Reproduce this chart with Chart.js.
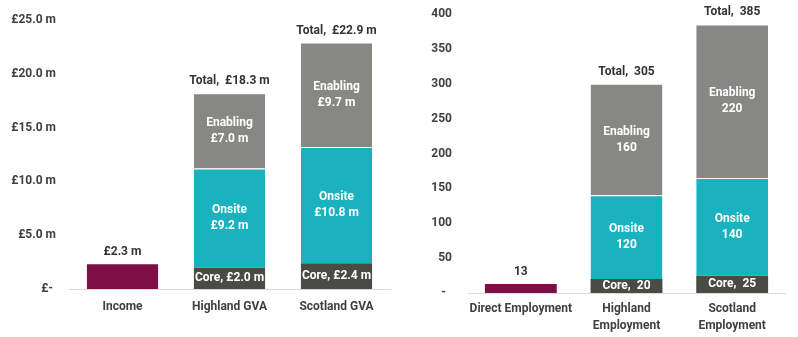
<!DOCTYPE html>
<html>
<head>
<meta charset="utf-8">
<script src="https://cdn.jsdelivr.net/npm/chart.js@4.4.1/dist/chart.umd.min.js"></script>
<style>
  html, body { margin: 0; padding: 0; background: #fff; }
  #wrap { position: relative; width: 798px; height: 337px; }
  .box { position: absolute; top: 0; height: 337px; }
  #gva-box { left: 0; width: 400px; }
  #jobs-box { left: 400px; width: 398px; }
</style>
</head>
<body>
<div id="wrap">
  <div class="box" id="gva-box"><canvas id="gvaChart"></canvas></div>
  <div class="box" id="jobs-box"><canvas id="jobsChart"></canvas></div>
</div>
<script>
// money impact (£ m)
const gvaCategories = ['Income', 'Highland GVA', 'Scotland GVA'];
const gvaIncome = [2.3, null, null];
const gvaCore = [null, 2.0, 2.4];
const gvaOnsite = [null, 9.2, 10.8];
const gvaEnabling = [null, 7.0, 9.7];
const gvaTotals = [null, 18.3, 22.9];
const gvaTicks = [0, 5, 10, 15, 20, 25];

// jobs impact (FTE)
const jobsCategories = [['Direct Employment'], ['Highland', 'Employment'], ['Scotland', 'Employment']];
const jobsDirect = [13, null, null];
const jobsCore = [null, 20, 25];
const jobsOnsite = [null, 120, 140];
const jobsEnabling = [null, 160, 220];
const jobsTotals = [null, 305, 385];
const jobsTicks = [0, 50, 100, 150, 200, 250, 300, 350, 400];

const MAROON = '#7e0f46';
const CORE = '#4b4b46';
const ONSITE = '#1bb2bf';
const ENABLING = '#878784';
const FONT = 'Roboto';

const barLabels = {
  id: 'barLabels',
  afterDatasetsDraw(chart, args, opts) {
    const ctx = chart.ctx;
    ctx.save();
    ctx.font = 'bold 12px ' + FONT;
    ctx.textAlign = 'center';
    ctx.textBaseline = 'middle';
    chart.data.datasets.forEach((ds, di) => {
      const meta = chart.getDatasetMeta(di);
      meta.data.forEach((bar, i) => {
        const v = ds.data[i];
        if (v == null) return;
        const txt = opts.fmt(v);
        const mid = (bar.y + bar.base) / 2;
        if (ds.labelPos === 'above') {
          ctx.fillStyle = '#333';
          ctx.fillText(txt, bar.x, bar.y - 12);
        } else if (ds.labelPos === 'inline') {
          ctx.fillStyle = '#fff';
          ctx.fillText(ds.label + ',' + opts.sep + txt, bar.x, mid);
        } else {
          ctx.fillStyle = '#fff';
          ctx.fillText(ds.label, bar.x, mid - 8);
          ctx.fillText(txt, bar.x, mid + 8);
        }
      });
    });
    // totals sit above the top segment
    const top = chart.getDatasetMeta(chart.data.datasets.length - 1);
    ctx.fillStyle = '#333';
    opts.totals.forEach((t, i) => {
      if (t == null) return;
      const bar = top.data[i];
      ctx.fillText('Total,  ' + opts.fmt(t), bar.x, bar.y - 12);
    });
    ctx.restore();
  }
};

function makeChart(id, o) {
  const seg = { top: 1, left: 0, right: 0, bottom: 0 };
  return new Chart(document.getElementById(id), {
    type: 'bar',
    data: {
      labels: o.categories,
      datasets: [
        { label: o.firstLabel, data: o.first, backgroundColor: MAROON, labelPos: 'above' },
        { label: 'Core', data: o.core, backgroundColor: CORE, labelPos: 'inline' },
        { label: 'Onsite', data: o.onsite, backgroundColor: ONSITE, borderColor: 'rgba(255,255,255,0.75)', borderWidth: seg, borderSkipped: false },
        { label: 'Enabling', data: o.enabling, backgroundColor: ENABLING, borderColor: 'rgba(255,255,255,0.75)', borderWidth: seg, borderSkipped: false }
      ]
    },
    options: {
      responsive: true,
      maintainAspectRatio: false,
      animation: false,
      layout: { padding: { top: o.padTop, right: o.padRight, left: 0, bottom: 0 } },
      datasets: { bar: { categoryPercentage: 1, barPercentage: o.barPct, grouped: false } },
      plugins: {
        legend: { display: false },
        tooltip: { enabled: false },
        barLabels: { fmt: o.fmt, sep: o.sep, totals: o.totals }
      },
      scales: {
        x: {
          stacked: true,
          grid: { display: false, drawTicks: false },
          border: { display: true, color: '#d9d9d9', width: 1 },
          ticks: {
            color: '#404040', padding: o.xPad, autoSkip: false, minRotation: 0, maxRotation: 0,
            font: { family: FONT, size: 12, weight: 'bold', lineHeight: 1.4 }
          },
          afterFit(scale) { scale.height = o.xHeight; }
        },
        y: {
          stacked: true,
          min: 0,
          max: o.ticks[o.ticks.length - 1],
          afterBuildTicks(scale) { scale.ticks = o.ticks.map(v => ({ value: v })); },
          grid: { display: false, drawTicks: false },
          border: { display: false },
          ticks: { color: '#404040', padding: o.yPad, font: { family: FONT, size: 12, weight: 'bold' }, callback: o.tickFmt },
          afterFit(scale) {
            scale.width = o.yWidth;
            // let layout.padding alone decide where the plot starts
            scale.paddingTop = 0;
            scale.paddingBottom = 0;
          }
        }
      }
    },
    plugins: [barLabels]
  });
}

makeChart('gvaChart', {
  categories: gvaCategories, firstLabel: 'Income',
  first: gvaIncome, core: gvaCore, onsite: gvaOnsite, enabling: gvaEnabling, totals: gvaTotals,
  ticks: gvaTicks,
  fmt: v => '£' + v.toFixed(1) + ' m', sep: ' ',
  tickFmt: v => v === 0 ? '£- ' : '£' + v.toFixed(1) + ' m',
  padTop: 20, padRight: 10, barPct: 0.665, xPad: 10, xHeight: 48, yPad: 13, yWidth: 69
});

makeChart('jobsChart', {
  categories: jobsCategories, firstLabel: 'Direct Employment',
  first: jobsDirect, core: jobsCore, onsite: jobsOnsite, enabling: jobsEnabling, totals: jobsTotals,
  ticks: jobsTicks,
  fmt: v => String(v), sep: '  ',
  tickFmt: v => v === 0 ? '-  ' : String(v),
  padTop: 14, padRight: 13, barPct: 0.68, xPad: 8, xHeight: 44, yPad: 16, yWidth: 68
});
</script>
</body>
</html>
